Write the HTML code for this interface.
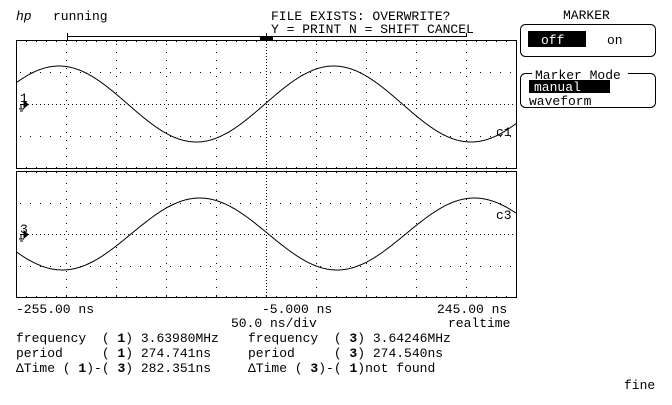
<!DOCTYPE html>
<html><head><style>
body{margin:0;background:#fff;width:672px;height:400px;overflow:hidden}
svg text{font-family:"Liberation Mono","DejaVu Sans Mono",monospace;font-size:13px;fill:#000;white-space:pre}
</style></head><body>
<svg id="s" width="672" height="400" xmlns="http://www.w3.org/2000/svg" xml:space="preserve">
<text x="16" y="20" font-style="italic" font-family="Liberation Serif" font-size="13">hp</text>
<text x="53" y="20">running</text>
<text x="271" y="20">FILE EXISTS: OVERWRITE?</text>
<text x="271" y="33">Y = PRINT N = SHIFT CANCEL</text>
<line x1="67" y1="36.5" x2="466" y2="36.5" stroke="#000"/>
<line x1="67.5" y1="33" x2="67.5" y2="40" stroke="#000"/>
<line x1="466.5" y1="33" x2="466.5" y2="37" stroke="#000"/>
<rect x="260" y="37" width="13" height="3" fill="#000"/>
<line x1="266.5" y1="33" x2="266.5" y2="37" stroke="#000"/>
<rect x="16.5" y="40.5" width="500" height="128" fill="none" stroke="#000"/>
<rect x="16.5" y="171.5" width="500" height="126" fill="none" stroke="#000"/>
<g id="grid"></g>
<polyline id="w1" fill="none" stroke="#000" stroke-width="1"/>
<polyline id="w3" fill="none" stroke="#000" stroke-width="1"/>
<text x="20" y="102" font-size="11">1</text>
<path d="M20 104.5h6M24 101l4 3.5-4 3.5zM21 104v5M19 109h5M20 111h3" stroke="#000" fill="#000"/>
<text x="20" y="233" font-size="11">3</text>
<path d="M20 234.5h6M24 231l4 3.5-4 3.5zM21 234v5M19 239h5M20 241h3" stroke="#000" fill="#000"/>
<text x="496" y="136">c1</text>
<text x="496" y="219">c3</text>
<text x="16" y="313">-255.00 ns</text>
<text x="262" y="313">-5.000 ns</text>
<text x="437" y="313">245.00 ns</text>
<text x="231" y="327">50.0 ns/div</text>
<text x="448" y="327">realtime</text>
<text x="16" y="342">frequency  ( <tspan font-weight="bold">1</tspan>) 3.63980MHz</text>
<text x="16" y="357">period     ( <tspan font-weight="bold">1</tspan>) 274.741ns</text>
<text x="16" y="372">ΔTime ( <tspan font-weight="bold">1</tspan>)-( <tspan font-weight="bold">3</tspan>) 282.351ns</text>
<text x="248" y="342">frequency  ( <tspan font-weight="bold">3</tspan>) 3.64246MHz</text>
<text x="248" y="357">period     ( <tspan font-weight="bold">3</tspan>) 274.540ns</text>
<text x="248" y="372">ΔTime ( <tspan font-weight="bold">3</tspan>)-( <tspan font-weight="bold">1</tspan>)not found</text>
<text x="624" y="389">fine</text>
<text x="563" y="19">MARKER</text>
<rect x="520.5" y="24.5" width="135" height="32" rx="5" fill="none" stroke="#000"/>
<rect x="528" y="31" width="58" height="16" fill="#000"/>
<text x="541" y="44" style="fill:#fff">off</text>
<text x="607" y="44">on</text>
<rect x="520.5" y="73.5" width="135" height="34" rx="5" fill="none" stroke="#000"/>
<rect x="532" y="67" width="96" height="12" fill="#fff"/>
<text x="535" y="79">Marker Mode</text>
<rect x="529" y="80" width="81" height="13" fill="#000"/>
<text x="534" y="91" style="fill:#fff">manual</text>
<text x="529" y="105">waveform</text>
</svg>
<script>
var ns="http://www.w3.org/2000/svg",g=document.getElementById("grid");
function dot(x,y){var r=document.createElementNS(ns,"rect");r.setAttribute("x",x);r.setAttribute("y",y);r.setAttribute("width",1);r.setAttribute("height",1);r.setAttribute("fill","#000");g.appendChild(r);}
function panel(y0,h,c){
 for(var i=1;i<10;i++){var x=16+i*50;for(var y=y0+4;y<y0+h;y+=(i==5?3:8))dot(x,y);}
 for(var j=1;j<4;j++){var y=Math.round(y0+j*h/4);for(var x=20;x<516;x+=(j==2?4:10))dot(x,y);}
 for(var x=16;x<=516;x+=10){dot(x,y0+1);dot(x,y0+h-1);}
}
panel(40,128);panel(171,126);
function wave(id,c,a,z){var p=[];for(var x=17;x<=516;x++){p.push(x+","+(c-a*Math.sin(2*Math.PI*(x-z)/274.7)).toFixed(1));}document.getElementById(id).setAttribute("points",p.join(" "));}
wave("w1",104,38,265);wave("w3",234,36,131);
</script>
</body></html>
